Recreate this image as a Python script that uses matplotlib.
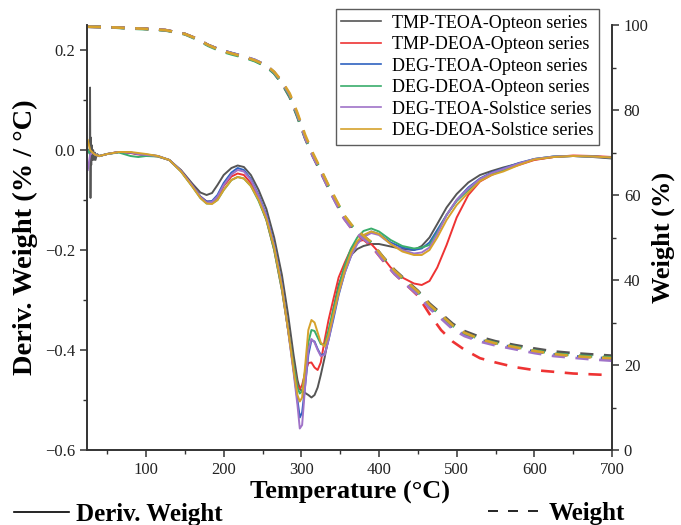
import matplotlib
matplotlib.use("Agg")
import matplotlib.pyplot as plt
from matplotlib.lines import Line2D
from matplotlib.ticker import MultipleLocator

plt.rcParams['font.family'] = ['Liberation Serif', 'DejaVu Serif']

# series names and colours
names = ['TMP-TEOA-Opteon series', 'TMP-DEOA-Opteon series', 'DEG-TEOA-Opteon series',
         'DEG-DEOA-Opteon series', 'DEG-TEOA-Solstice series', 'DEG-DEOA-Solstice series']
colors = ['#555555', '#ee3333', '#2f62c0', '#3aad6c', '#a073c8', '#d6a22c']

# DTG curves (left axis), temperature in degC
t_dtg = [25, 28, 31, 35, 40, 50, 65, 80, 90, 100, 115, 130, 145, 160, 170, 178, 185, 192, 200, 210,
         218, 226, 235, 245, 255, 265, 275, 283, 290, 295, 298, 301, 305, 309, 313, 317, 321, 325, 330, 335,
         341, 348, 356, 364, 372, 380, 390, 400, 415, 430, 445, 455, 465, 475, 487, 500, 515, 530, 545, 560,
         580, 600, 625, 650, 675, 700]

dtg_tmp_teoa_op = [-0.012, -0.012, -0.012, -0.012, -0.012, -0.008, -0.004, -0.005, -0.008, -0.009, -0.012, -0.02, -0.04, -0.068, -0.085, -0.09, -0.086, -0.07, -0.05, -0.036,
                   -0.031, -0.034, -0.05, -0.08, -0.118, -0.175, -0.25, -0.33, -0.41, -0.46, -0.478, -0.482, -0.486, -0.49, -0.495, -0.49, -0.475, -0.45, -0.415, -0.375,
                   -0.32, -0.27, -0.235, -0.21, -0.198, -0.192, -0.188, -0.188, -0.193, -0.198, -0.2, -0.192, -0.175, -0.148, -0.115, -0.088, -0.065, -0.05, -0.042, -0.035,
                   -0.027, -0.019, -0.014, -0.012, -0.014, -0.017]
dtg_tmp_deoa_op = [0.0, -0.008, -0.005, -0.01, -0.012, -0.008, -0.004, -0.006, -0.009, -0.01, -0.013, -0.02, -0.042, -0.072, -0.093, -0.103, -0.104, -0.095, -0.072, -0.053,
                   -0.047, -0.05, -0.066, -0.098, -0.14, -0.2, -0.28, -0.36, -0.43, -0.47, -0.478, -0.47, -0.445, -0.426, -0.425, -0.435, -0.44, -0.425, -0.38, -0.34,
                   -0.3, -0.255, -0.225, -0.198, -0.183, -0.18, -0.188, -0.205, -0.235, -0.255, -0.267, -0.27, -0.262, -0.235, -0.19, -0.135, -0.09, -0.063, -0.05, -0.04,
                   -0.03, -0.02, -0.014, -0.011, -0.012, -0.014]
dtg_deg_teoa_op = [0.0, -0.008, -0.005, -0.01, -0.012, -0.008, -0.004, -0.005, -0.008, -0.01, -0.012, -0.02, -0.042, -0.072, -0.093, -0.103, -0.102, -0.09, -0.066, -0.045,
                   -0.036, -0.04, -0.058, -0.09, -0.13, -0.19, -0.27, -0.36, -0.44, -0.5, -0.535, -0.525, -0.47, -0.41, -0.38, -0.383, -0.398, -0.41, -0.408, -0.38,
                   -0.34, -0.29, -0.245, -0.212, -0.186, -0.172, -0.163, -0.168, -0.185, -0.195, -0.2, -0.197, -0.185, -0.16, -0.13, -0.1, -0.075, -0.057, -0.045, -0.037,
                   -0.026, -0.018, -0.013, -0.012, -0.013, -0.015]
dtg_deg_deoa_op = [0.0, -0.008, -0.005, -0.01, -0.012, -0.008, -0.005, -0.012, -0.014, -0.012, -0.013, -0.02, -0.043, -0.074, -0.096, -0.107, -0.107, -0.1, -0.08, -0.06,
                   -0.054, -0.057, -0.072, -0.102, -0.14, -0.2, -0.28, -0.36, -0.43, -0.475, -0.487, -0.482, -0.44, -0.385, -0.36, -0.362, -0.375, -0.388, -0.39, -0.36,
                   -0.32, -0.275, -0.23, -0.197, -0.175, -0.162, -0.157, -0.163, -0.18, -0.192, -0.197, -0.195, -0.19, -0.165, -0.13, -0.102, -0.08, -0.06, -0.048, -0.04,
                   -0.028, -0.018, -0.013, -0.012, -0.013, -0.015]
dtg_deg_teoa_sol = [-0.04, -0.01, -0.005, -0.01, -0.012, -0.008, -0.004, -0.005, -0.008, -0.01, -0.012, -0.02, -0.042, -0.072, -0.094, -0.105, -0.104, -0.093, -0.07, -0.049,
                    -0.04, -0.043, -0.06, -0.092, -0.132, -0.192, -0.272, -0.362, -0.445, -0.51, -0.557, -0.55, -0.47, -0.4, -0.378, -0.385, -0.4, -0.412, -0.41, -0.38,
                    -0.335, -0.287, -0.245, -0.212, -0.188, -0.174, -0.166, -0.17, -0.188, -0.2, -0.207, -0.205, -0.195, -0.168, -0.13, -0.1, -0.077, -0.058, -0.046, -0.038,
                    -0.027, -0.018, -0.013, -0.012, -0.013, -0.015]
dtg_deg_deoa_sol = [0.02, 0.0, -0.005, -0.01, -0.012, -0.008, -0.004, -0.004, -0.006, -0.008, -0.012, -0.02, -0.043, -0.074, -0.096, -0.107, -0.108, -0.1, -0.08, -0.06,
                    -0.054, -0.057, -0.072, -0.1, -0.138, -0.195, -0.275, -0.36, -0.44, -0.49, -0.503, -0.495, -0.43, -0.36, -0.34, -0.345, -0.365, -0.385, -0.393, -0.37,
                    -0.33, -0.285, -0.24, -0.205, -0.182, -0.17, -0.163, -0.168, -0.188, -0.203, -0.21, -0.21, -0.2, -0.175, -0.14, -0.11, -0.085, -0.062, -0.05, -0.043,
                    -0.03, -0.019, -0.014, -0.012, -0.013, -0.015]

# noisy start of the TMP-TEOA run
t_spike = [25, 27.5, 28.0, 28.5, 29.0, 29.5, 30, 31, 32, 33, 34, 35, 37, 40]
dtg_spike = [0.0, 0.0, 0.125, -0.096, 0.025, -0.03, 0.01, -0.02, 0.0, -0.02, -0.005, -0.02, -0.008, -0.012]

# weight curves (right axis)
t_w = [25, 50, 75, 100, 125, 150, 165, 180, 195, 210, 225, 240, 255, 265, 275, 285, 295, 305, 315, 325,
       335, 345, 355, 365, 375, 390, 405, 420, 435, 450, 465, 480, 495, 510, 530, 550, 575, 600, 625, 650,
       675, 700]

w_tmp_teoa_op = [99.6, 99.5, 99.3, 99.1, 98.8, 97.9, 96.8, 95.3, 94.2, 93.4, 92.6, 91.6, 90.2, 88.6, 86.2, 83.0, 78.3, 73.2, 69.0, 65.3,
                 61.5, 58.0, 54.8, 52.6, 51.0, 48.9, 45.5, 42.4, 39.9, 37.5, 34.5, 32.1, 29.7, 28.0, 26.6, 25.6, 24.7, 23.9, 23.2, 22.8,
                 22.5, 22.2]
w_tmp_deoa_op = [99.6, 99.5, 99.3, 99.1, 98.8, 97.9, 96.8, 95.3, 94.1, 93.3, 92.6, 91.7, 90.4, 88.8, 86.4, 83.4, 78.8, 73.6, 69.4, 65.8,
                 61.8, 58.2, 54.5, 52.0, 50.3, 48.0, 44.6, 41.4, 38.9, 36.3, 32.0, 28.2, 25.5, 23.6, 21.6, 20.6, 19.5, 18.8, 18.4, 18.0,
                 17.8, 17.6]
w_deg_teoa_op = [99.6, 99.5, 99.3, 99.1, 98.8, 97.9, 96.8, 95.3, 94.2, 93.4, 92.7, 91.8, 90.5, 88.9, 86.5, 83.5, 78.8, 73.5, 69.3, 65.7,
                 61.8, 58.3, 54.8, 52.4, 50.8, 48.6, 45.0, 41.8, 39.3, 36.9, 33.7, 31.3, 28.8, 27.2, 25.9, 25.0, 24.1, 23.2, 22.5, 22.1,
                 21.8, 21.5]
w_deg_deoa_op = [99.6, 99.5, 99.2, 99.0, 98.7, 97.8, 96.6, 95.1, 93.9, 93.1, 92.4, 91.5, 90.2, 88.6, 86.3, 83.2, 78.5, 73.4, 69.4, 65.9,
                 62.1, 58.6, 55.2, 52.8, 51.1, 48.8, 45.3, 42.1, 39.6, 37.2, 34.0, 31.6, 29.2, 27.5, 26.1, 25.2, 24.3, 23.4, 22.7, 22.3,
                 22.0, 21.8]
w_deg_teoa_sol = [99.6, 99.5, 99.3, 99.1, 98.8, 97.9, 96.8, 95.3, 94.2, 93.4, 92.7, 91.8, 90.5, 88.9, 86.6, 83.6, 78.9, 73.4, 69.1, 65.4,
                  61.5, 57.9, 54.4, 52.0, 50.4, 48.2, 44.6, 41.4, 38.9, 36.5, 33.3, 30.9, 28.4, 26.8, 25.5, 24.6, 23.7, 22.8, 22.1, 21.7,
                  21.3, 21.0]
w_deg_deoa_sol = [99.6, 99.5, 99.3, 99.1, 98.8, 97.9, 96.8, 95.3, 94.1, 93.3, 92.6, 91.7, 90.5, 89.0, 86.8, 83.9, 79.3, 74.1, 69.8, 66.1,
                  62.3, 58.8, 55.3, 52.9, 51.2, 48.9, 45.4, 42.2, 39.7, 37.3, 34.2, 31.8, 29.3, 27.6, 26.1, 25.1, 24.2, 23.3, 22.6, 22.1,
                  21.8, 21.6]

dtg_all = [dtg_tmp_teoa_op, dtg_tmp_deoa_op, dtg_deg_teoa_op, dtg_deg_deoa_op, dtg_deg_teoa_sol, dtg_deg_deoa_sol]
w_all = [w_tmp_teoa_op, w_tmp_deoa_op, w_deg_teoa_op, w_deg_deoa_op, w_deg_teoa_sol, w_deg_deoa_sol]

fig = plt.figure(figsize=(6.81, 5.25), dpi=100)
ax = fig.add_axes([87 / 681, 75 / 525, 525 / 681, 425 / 525])
ax2 = ax.twinx()

for i in range(6):
    if i == 0:
        ax.plot(t_spike, dtg_spike, color=colors[i], lw=1.3)
        ax.plot(t_dtg[4:], dtg_all[i][4:], color=colors[i], lw=1.4, label=names[i])
    else:
        ax.plot(t_dtg, dtg_all[i], color=colors[i], lw=1.4, label=names[i])
    ax2.plot(t_w, w_all[i], color=colors[i], lw=1.9, ls=(0, (5, 4)))

ax.set_xlim(24, 700)
ax.set_ylim(-0.6, 0.25)
ax2.set_ylim(0, 100)

ax.xaxis.set_major_locator(MultipleLocator(100))
ax.xaxis.set_minor_locator(MultipleLocator(50))
ax.yaxis.set_major_locator(MultipleLocator(0.2))
ax.yaxis.set_minor_locator(MultipleLocator(0.1))
ax2.yaxis.set_major_locator(MultipleLocator(20))
ax2.yaxis.set_minor_locator(MultipleLocator(10))

for a in (ax, ax2):
    a.spines['top'].set_visible(False)
    for s in a.spines.values():
        s.set_linewidth(1.2)
        s.set_color('#333333')
    a.tick_params(which='major', direction='out', length=5, width=1.1, labelsize=12, colors='#333333')
    a.tick_params(which='minor', direction='out', length=3, width=1.0, colors='#333333')
    a.tick_params(labelcolor='#222222')

ax.set_xlabel('Temperature (°C)', fontsize=19, fontweight='bold', labelpad=2)
ax.set_ylabel('Deriv. Weight (% / °C)', fontsize=20.5, fontweight='bold', labelpad=5)
ax2.set_ylabel('Weight (%)', fontsize=19, fontweight='bold', labelpad=2)

leg = ax.legend(loc='upper right', bbox_to_anchor=(0.975, 1.037), borderaxespad=0,
                fontsize=13, frameon=True, fancybox=False, edgecolor='#333333',
                handlelength=2.2, labelspacing=0.25, borderpad=0.3, handletextpad=0.6)
leg.get_frame().set_linewidth(1.0)
for h in leg.get_lines():
    h.set_linewidth(1.2)

# bottom key for line styles
fig.legend(handles=[Line2D([], [], color='black', lw=1.2)], labels=['Deriv. Weight'],
           loc='lower left', bbox_to_anchor=(-0.012, -0.045), frameon=False,
           prop={'size': 18, 'weight': 'bold'}, handlelength=2.2, handletextpad=0.25)
fig.legend(handles=[Line2D([], [], color='black', lw=1.2, ls=(0, (6, 6)))], labels=['Weight'],
           loc='lower left', bbox_to_anchor=(0.683, -0.042), frameon=False,
           prop={'size': 18, 'weight': 'bold'}, handlelength=2.2, handletextpad=0.25)

fig.savefig('out.png', dpi=100)
